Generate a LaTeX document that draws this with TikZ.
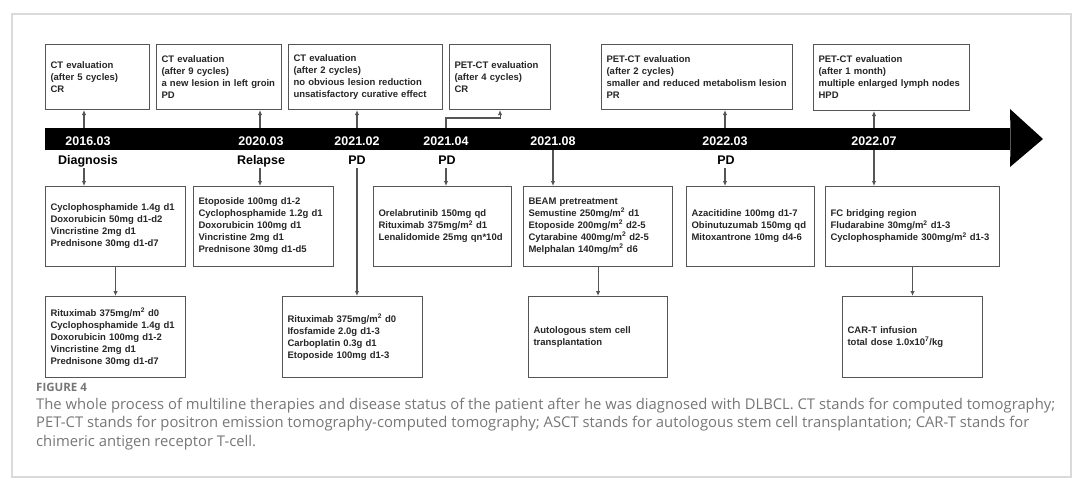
\documentclass[tikz,border=0pt]{standalone}
\usepackage{fontspec}
\setmainfont{Liberation Sans}
\newfontfamily\capfont{Open Sans}
\usepackage{tikz}
\usetikzlibrary{positioning,arrows.meta}
\definecolor{edge}{HTML}{555555}
\definecolor{capgray}{HTML}{767676}
\definecolor{framegray}{HTML}{DADADA}

\begin{document}
\begin{tikzpicture}[
  x=1pt, y=-1pt,
  box/.style={
    draw=edge,
    line width=1.1pt,
    anchor=north west,
    align=left,
    inner xsep=5pt,
    inner ysep=0pt,
    text=black!85,
    font=\fontsize{9.5}{12}\selectfont\bfseries
  },
  date/.style={anchor=base, inner sep=0pt, text=white, font=\fontsize{12.5}{15}\selectfont\bfseries},
  stat/.style={anchor=base, inner xsep=1pt, inner ysep=4pt, text height=9pt, text depth=0pt, font=\fontsize{12.5}{15}\selectfont\bfseries},
  arrow/.style={-{Latex[length=5pt,width=4.5pt]}, draw=edge, line width=1.1pt}
]

\useasboundingbox (0,0) rectangle (1080,485);
\draw[framegray, line width=1.2pt] (12,14) rectangle (1071,477);

% timeline
\node[fill=black, inner sep=0pt, minimum width=965pt, minimum height=22pt, anchor=north west] (bar) at (45,128) {};
\fill (bar.north east) -- (1010,109) -- (1043,139) -- (1010,167) -- (bar.south east) -- cycle;

\node[date] (d1) at (88,145) {2016.03};
\node[date] (d2) at (261,145) {2020.03};
\node[date] (d3) at (357,145) {2021.02};
\node[date] (d4) at (446,145) {2021.04};
\node[date] (d5) at (553,145) {2021.08};
\node[date] (d6) at (725,145) {2022.03};
\node[date] (d7) at (874,145) {2022.07};

\node[stat] (s1) at (88,164) {Diagnosis};
\node[stat] (s2) at (261,164) {Relapse};
\node[stat] (s3) at (357,164) {PD};
\node[stat] (s4) at (447,164) {PD};
\node[stat] (s6) at (726,164) {PD};

\coordinate (t1) at (84,128);
\coordinate (t2) at (260,128);
\coordinate (t3) at (357,128);
\coordinate (t4) at (446,128);
\coordinate (t5) at (553,128);
\coordinate (t6) at (725,128);
\coordinate (t7) at (874,128);

% evaluations
\node[box, text width=94pt, minimum height=65pt] (ev1) at (45,44) {CT evaluation\\(after 5 cycles)\\CR};
\node[box, text width=115pt, minimum height=65pt] (ev2) at (156,44) {CT evaluation\\(after 9 cycles)\\a new lesion in left groin\\PD};
\node[box, text width=144pt, minimum height=65pt] (ev3) at (288,44) {CT evaluation\\(after 2 cycles)\\no obvious lesion reduction\\unsatisfactory curative effect};
\node[box, text width=91pt, minimum height=65pt] (ev4) at (449,44) {PET-CT evaluation\\(after 4 cycles)\\CR};
\node[box, text width=181pt, minimum height=65pt] (ev5) at (601,44) {PET-CT evaluation\\(after 2 cycles)\\smaller and reduced metabolism lesion\\PR};
\node[box, text width=146pt, minimum height=66pt] (ev6) at (813,44) {PET-CT evaluation\\(after 1 month)\\multiple enlarged lymph nodes\\HPD};

% regimens
\node[box, text width=130pt, minimum height=80pt] (ra) at (45,186) {Cyclophosphamide 1.4g d1\\Doxorubicin 50mg d1-d2\\Vincristine 2mg d1\\Prednisone 30mg d1-d7};
\node[box, text width=130pt, minimum height=80pt] (rb) at (193,186) {Etoposide 100mg d1-2\\Cyclophosphamide 1.2g d1\\Doxorubicin 100mg d1\\Vincristine 2mg d1\\Prednisone 30mg d1-d5};
\node[box, text width=128pt, minimum height=80pt] (rc) at (373,186) {Orelabrutinib 150mg qd\\Rituximab 375mg/m\textsuperscript{2} d1\\Lenalidomide 25mg qn*10d};
\node[box, text width=139pt, minimum height=80pt] (rd) at (523,186) {BEAM pretreatment\\Semustine 250mg/m\textsuperscript{2} d1\\Etoposide 200mg/m\textsuperscript{2} d2-5\\Cytarabine 400mg/m\textsuperscript{2} d2-5\\Melphalan 140mg/m\textsuperscript{2} d6};
\node[box, text width=118pt, minimum height=80pt] (re) at (686,186) {Azacitidine 100mg d1-7\\Obinutuzumab 150mg qd\\Mitoxantrone 10mg d4-6};
\node[box, text width=164pt, minimum height=80pt] (rf) at (825,186) {FC bridging region\\Fludarabine 30mg/m\textsuperscript{2} d1-3\\Cyclophosphamide 300mg/m\textsuperscript{2} d1-3};

\node[box, text width=130pt, minimum height=81pt] (ra2) at (45,296) {Rituximab 375mg/m\textsuperscript{2} d0\\Cyclophosphamide 1.4g d1\\Doxorubicin 100mg d1-2\\Vincristine 2mg d1\\Prednisone 30mg d1-d7};
\node[box, text width=130pt, minimum height=81pt] (rc2) at (282,296) {Rituximab 375mg/m\textsuperscript{2} d0\\Ifosfamide 2.0g d1-3\\Carboplatin 0.3g d1\\Etoposide 100mg d1-3};
\node[box, text width=129pt, minimum height=81pt] (rd2) at (528,296) {Autologous stem cell\\transplantation};
\node[box, text width=130pt, minimum height=81pt] (rf2) at (842,296) {CAR-T infusion\\total dose 1.0x10\textsuperscript{7}/kg};

\draw[arrow] (t1) -- (t1 |- ev1.south);
\draw[arrow] (t2) -- (t2 |- ev2.south);
\draw[arrow] (t3) -- (t3 |- ev3.south);
\draw[arrow] (t4) -- ++(0,-10) -| (ev4.south);
\draw[arrow] (t6) -- (t6 |- ev5.south);
\draw[arrow] (t7) -- (t7 |- ev6.south);

\draw[arrow] (t1 |- s1.south) -- (t1 |- ra.north);
\draw[arrow] (t2 |- s2.south) -- (t2 |- rb.north);
\draw[arrow] (t3 |- s3.south) -- (t3 |- rc2.north);
\draw[arrow] (t4 |- s4.south) -- (t4 |- rc.north);
\draw[arrow] (t5 |- bar.south) -- (t5 |- rd.north);
\draw[arrow] (t6 |- s6.south) -- (t6 |- re.north);
\draw[arrow] (t7 |- bar.south) -- (t7 |- rf.north);

\draw[arrow] (ra) -- (ra2);
\draw[arrow] (rd) -- (rd2);
\draw[arrow] (rf) -- (rf2);

% caption
\node[anchor=north west, inner sep=0pt, text=capgray, font=\capfont\fontsize{11.5}{13}\selectfont\bfseries] (fig) at (36,383) {FIGURE 4};
\node[anchor=north west, inner sep=0pt, align=left, text=capgray, font=\capfont\fontsize{14.8}{18.3}\selectfont] (cap) at (36,398) {The whole process of multiline therapies and disease status of the patient after he was diagnosed with DLBCL. CT stands for computed tomography;\\PET-CT stands for positron emission tomography-computed tomography; ASCT stands for autologous stem cell transplantation; CAR-T stands for\\chimeric antigen receptor T-cell.};

\end{tikzpicture}
\end{document}
